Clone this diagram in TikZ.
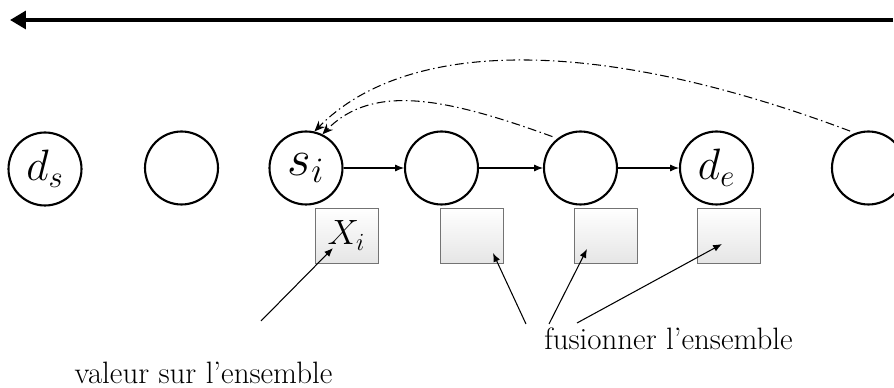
\documentclass[tikz,border=0pt]{standalone}
\usepackage{fix-cm}
\usetikzlibrary{arrows.meta, shadows}

\begin{document}
\begin{tikzpicture}[x=0.02cm, y=-0.02cm,
    etat/.style={circle, draw=black, line width=1.2pt, minimum size=1.46cm,
      inner sep=0pt},
    ens/.style={rectangle, draw=black!55, line width=0.5pt, minimum width=1.26cm,
      minimum height=1.1cm, inner sep=0pt, top color=white, bottom color=black!10,
      drop shadow={shadow xshift=0.6pt, shadow yshift=-0.6pt, opacity=0.25}},
    lien/.style={-{Latex[length=5pt, width=4pt]}, line width=0.6pt},
    retour/.style={-{Stealth[length=6pt, width=5pt]}, line width=0.6pt,
      dash pattern=on 5pt off 2pt on 0.8pt off 2pt},
    note/.style={font=\fontsize{17.6}{21}\selectfont, inner sep=0pt, anchor=base}
  ]
  \clip (0,0) rectangle (894,388);

  % sens de parcours
  \coordinate (sensA) at (893,20);
  \coordinate (sensB) at (10,20);
  \draw[line width=2.3pt, -{Triangle[length=9pt, width=10pt]}] (sensA) -- (sensB);

  % etats
  \node[etat] (ds) at (45,169) {\fontsize{25}{29}\selectfont $d_s$};
  \node[etat] (c2) at (181.5,168) {};
  \node[etat] (si) at (306,168) {\fontsize{29}{33}\selectfont $s_i$};
  \node[etat] (c4) at (441.5,168) {};
  \node[etat] (c5) at (580.5,168) {};
  \node[etat] (de) at (716.5,168) {\fontsize{25}{29}\selectfont $d_e$};
  \node[etat] (c7) at (868.5,168) {};

  % ensembles
  \node[ens] (b1) at (346.5,235.5) {\fontsize{20}{24}\selectfont $X_i$};
  \node[ens] (b2) at (471.5,235.5) {};
  \node[ens] (b3) at (605.5,235.5) {};
  \node[ens] (b4) at (728.5,235.5) {};

  \draw[lien] (si) -- (c4);
  \draw[lien] (c4) -- (c5);
  \draw[lien] (c5) -- (de);

  % retours
  \draw[retour, shorten <=3pt] (c7.111) .. controls (592,34) and (405,40) .. (si.77);
  \draw[retour, shorten <=3pt] (c5.128) .. controls (446,98) and (373,83) .. (si.64);

  % legendes
  \node[note] (valeur) at (203.5,384) {valeur sur l'ensemble};
  \node[note] (fusion) at (668.5,350) {fusionner l'ensemble};

  \coordinate (v1) at (261,321);
  \coordinate (f1) at (526,324);
  \coordinate (f2) at (549,324);
  \coordinate (f3) at (577,323);
  \coordinate (t1) at ([shift={(-13.5,12.5)}]b1.center);
  \coordinate (t2) at ([shift={(21.5,17.5)}]b2.center);
  \coordinate (t3) at ([shift={(-18.5,13.5)}]b3.center);
  \coordinate (t4) at ([shift={(-6.5,8.5)}]b4.center);

  \draw[lien] (v1) -- (t1);
  \draw[lien] (f1) -- (t2);
  \draw[lien] (f2) -- (t3);
  \draw[lien] (f3) -- (t4);
\end{tikzpicture}
\end{document}
